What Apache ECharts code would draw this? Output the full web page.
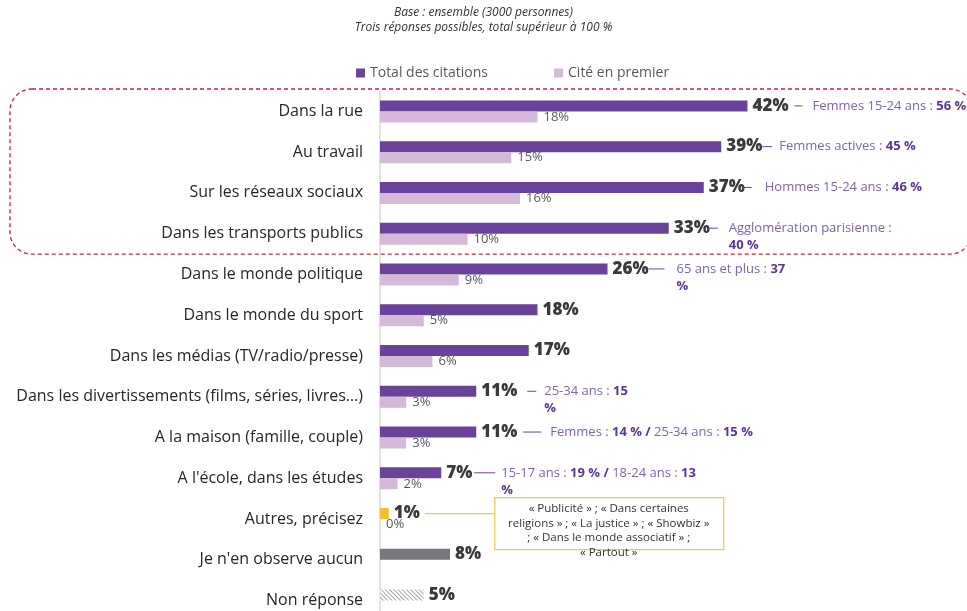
<!DOCTYPE html>
<html lang="fr">
<head>
  <meta charset="UTF-8">
  <title>Lieux</title>
  <style>
    html, body { margin: 0; padding: 0; width: 100%; height: 100%; background: #fff; overflow: hidden; }
    #main { width: 967px; height: 625px; }
  </style>
</head>
<body>
<div id="main"></div>
<script src="https://cdn.jsdelivr.net/npm/echarts@6/dist/echarts.min.js"></script>
<script>
var categories = [
  'Dans la rue', 'Au travail', 'Sur les réseaux sociaux', 'Dans les transports publics',
  'Dans le monde politique', 'Dans le monde du sport', 'Dans les médias (TV/radio/presse)',
  'Dans les divertissements (films, séries, livres…)', 'A la maison (famille, couple)',
  "A l'école, dans les études", 'Autres, précisez', "Je n'en observe aucun", 'Non réponse'
];
var totalValues = [42, 39, 37, 33, 26, 18, 17, 11, 11, 7, 1, 8, 5];
var firstValues = [18, 15, 16, 10, 9, 5, 6, 3, 3, 2, 0, null, null];

// sous-groupes (texte riche), un par ligne, null = rien
var notes = [
  '{n|Femmes 15-24 ans : }{b|56 %}',
  '{n|Femmes actives : }{b|45 %}',
  '{n|Hommes 15-24 ans : }{b|46 %}',
  '{n|Agglomération parisienne :}\n{b|40 %}',
  '{n|65 ans et plus : }{b|37}\n{b|%}',
  null, null,
  '{n|25-34 ans : }{b|15}\n{b|%}',
  '{n|Femmes : }{b|14 % / }{n|25-34 ans : }{b|15 %}',
  '{n|15-17 ans : }{b|19 % / }{n|18-24 ans : }{b|13}\n{b|%}'
];
var autresText = '« Publicité » ; « Dans certaines\nreligions » ; « La justice » ; « Showbiz »\n; « Dans le monde associatif » ;\n« Partout »';

// decalages (px apres la fin de barre) : debut trait, fin trait, debut texte
var noteOffsets = [
  [47, 55, 65], [41, 51, 58], [38, 48, 61], [39, 49, 60], [41, 57, 69],
  null, null, [51, 60, 68], [47, 65, 74], [33, 54, 60]
];

var PURPLE = '#6A4299', LIGHT = '#D5B9D9', FONT = 'Open Sans';
var BAR = 11;

var chart = echarts.init(document.getElementById('main'));

var totalData = totalValues.map(function (v, i) {
  if (i === 10) return { value: v, itemStyle: { color: '#F6BE2E' } };
  if (i === 11) return { value: v, itemStyle: { color: '#77797C' } };
  if (i === 12) return {
    value: v,
    itemStyle: {
      color: '#ffffff',
      decal: { symbol: 'rect', symbolSize: 1, color: '#a6a6a6', dashArrayX: [1, 0], dashArrayY: [1, 2], rotation: Math.PI / 4 }
    }
  };
  return v;
});

var option = {
  animation: false,
  textStyle: { fontFamily: FONT },
  title: {
    text: 'Base : ensemble (3000 personnes)\nTrois réponses possibles, total supérieur à 100 %',
    left: 'center',
    top: 0,
    textStyle: { fontSize: 12, fontStyle: 'italic', fontWeight: 'normal', color: '#333', lineHeight: 15, fontFamily: FONT }
  },
  legend: {
    left: 351,
    top: 61,
    itemWidth: 9,
    itemHeight: 9,
    itemGap: 66,
    icon: 'rect',
    textStyle: { fontSize: 14, color: '#595959', fontFamily: FONT },
    data: ['Total des citations', 'Cité en premier']
  },
  grid: { left: 380, top: 91, width: 525, height: 530 },
  xAxis: { type: 'value', min: 0, max: 60, show: false },
  yAxis: {
    type: 'category',
    inverse: true,
    data: categories,
    axisLine: { show: true, lineStyle: { color: '#D9D9D9', width: 1.5 } },
    axisTick: { show: false },
    axisLabel: { fontSize: 16, color: '#262626', margin: 17, fontFamily: FONT }
  },
  series: [
    {
      name: 'Total des citations',
      type: 'bar',
      barWidth: BAR,
      barGap: '0%',
      itemStyle: { color: PURPLE },
      label: {
        show: true, position: 'right', distance: 5,
        formatter: '{c}%', fontSize: 17, fontWeight: 800, color: '#3A3A3A', fontFamily: FONT
      },
      data: totalData
    },
    {
      name: 'Cité en premier',
      type: 'bar',
      barWidth: BAR,
      itemStyle: { color: LIGHT },
      label: {
        show: true, position: 'right', distance: 6,
        formatter: '{c}%', fontSize: 13, color: '#595959', fontFamily: FONT
      },
      data: firstValues
    }
  ]
};

chart.setOption(option);

function barEnd(i) {
  return chart.convertToPixel({ gridIndex: 0 }, [totalValues[i], categories[i]]);
}
function rowCenter(i) {
  return chart.convertToPixel({ gridIndex: 0 }, [0, categories[i]]);
}

var graphics = [];

// cadre rouge autour des 4 premieres lignes
var top0 = rowCenter(0)[1], top3 = rowCenter(3)[1];
var band = rowCenter(1)[1] - top0;
graphics.push({
  type: 'rect',
  shape: { x: 10, y: top0 - band / 2 - 2, width: 962, height: (top3 - top0) + band + 2, r: 22 },
  style: { fill: 'none', stroke: '#D0202E', lineWidth: 1.3, lineDash: [4, 3] },
  z: 10
});

var richNote = {
  n: { fontSize: 13, fill: '#8064A8', fontFamily: FONT, lineHeight: 17 },
  b: { fontSize: 13, fill: '#5B3596', fontWeight: 'bold', fontFamily: FONT, lineHeight: 17 }
};

notes.forEach(function (txt, i) {
  if (!txt) return;
  var p = barEnd(i);
  var yc = p[1] - BAR / 2;
  var o = noteOffsets[i];
  graphics.push({
    type: 'line',
    shape: { x1: p[0] + o[0], y1: yc, x2: p[0] + o[1], y2: yc },
    style: { stroke: '#6A4299', lineWidth: 1 },
    z: 10
  });
  graphics.push({
    type: 'text',
    x: p[0] + o[2],
    y: yc - 8.5,
    style: { text: txt, align: 'left', verticalAlign: 'top', rich: richNote },
    z: 10
  });
});

// encadre "Autres"
var pa = barEnd(10);
var ya = pa[1] - BAR / 2;
graphics.push({
  type: 'line',
  shape: { x1: pa[0] + 36, y1: ya, x2: pa[0] + 106, y2: ya },
  style: { stroke: '#F6C54A', lineWidth: 1.2 },
  z: 10
});
graphics.push({
  type: 'rect',
  shape: { x: pa[0] + 106, y: ya - 16, width: 229, height: 52 },
  style: { fill: '#fff', stroke: '#F6C54A', lineWidth: 1.2 },
  z: 10
});
graphics.push({
  type: 'text',
  x: pa[0] + 220,
  y: ya + 17,
  style: {
    text: autresText,
    align: 'center',
    verticalAlign: 'middle',
    fontSize: 11.5,
    lineHeight: 14.6,
    fill: '#333',
    fontFamily: FONT
  },
  z: 11
});

chart.setOption({ graphic: graphics });
</script>
</body>
</html>
